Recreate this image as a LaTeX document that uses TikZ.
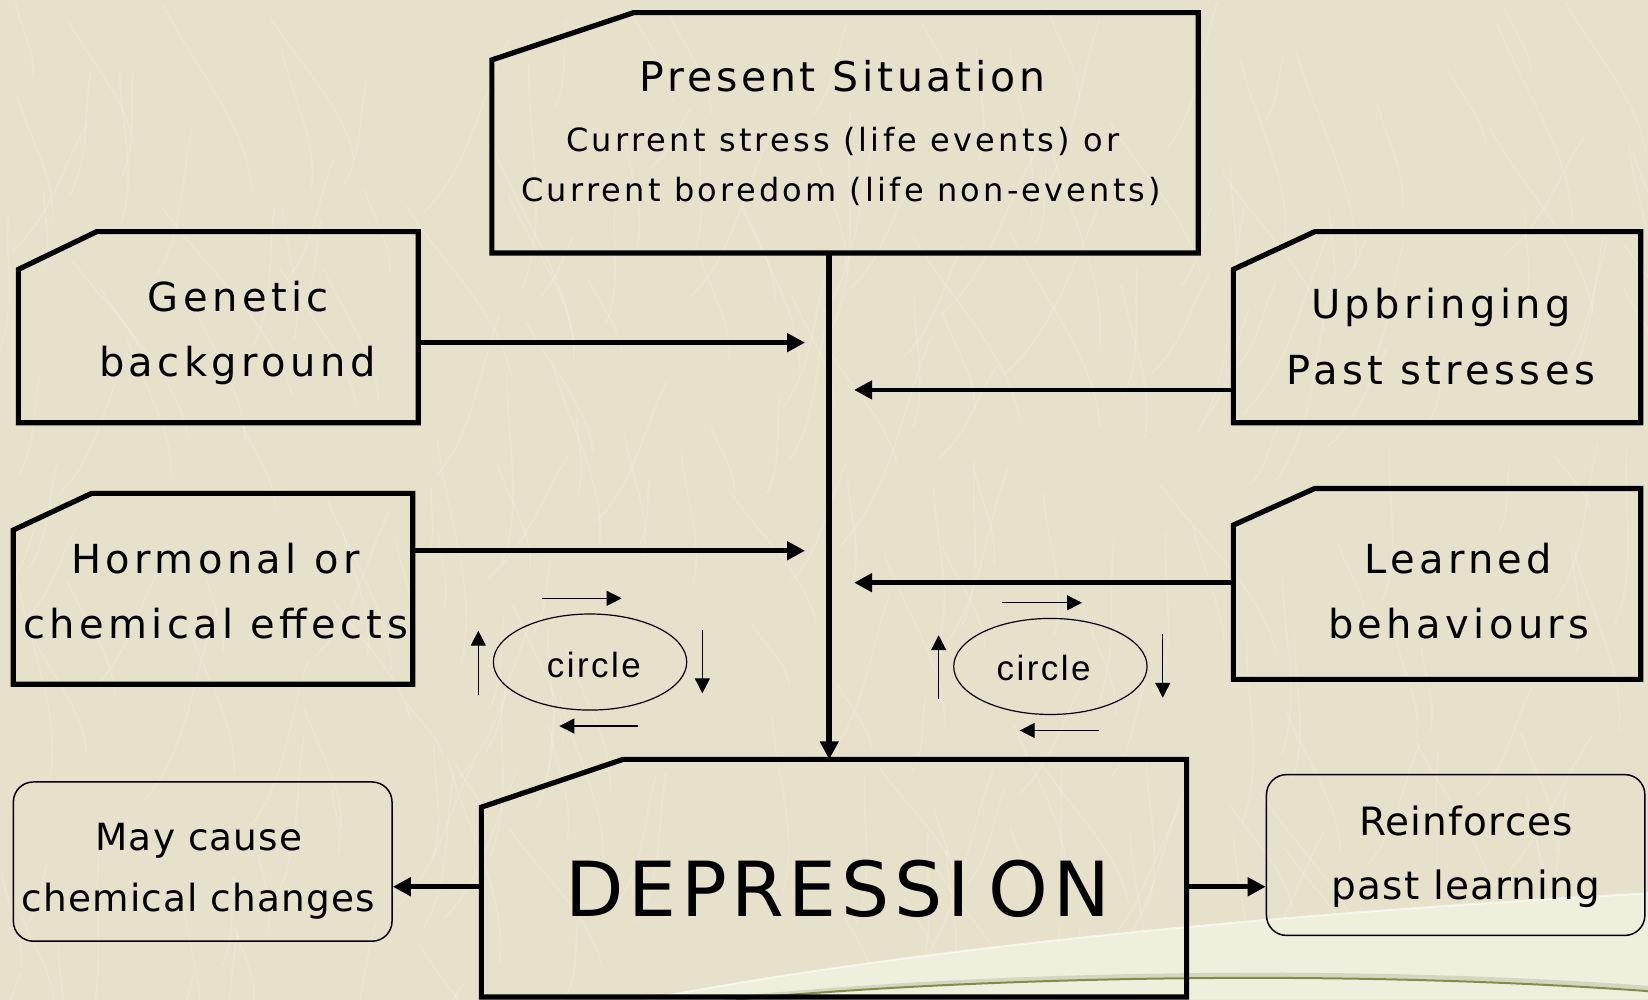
\documentclass[tikz,border=0pt]{standalone}
\usepackage{fontspec}
\setmainfont{DejaVu Sans}
\newfontfamily\boxfont[LetterSpace=11]{DejaVu Sans}
\newfontfamily\titlefont[LetterSpace=9]{DejaVu Sans}
\newfontfamily\subfont[LetterSpace=10]{DejaVu Sans}
\newfontfamily\notefont[LetterSpace=3]{DejaVu Sans}
\newfontfamily\depfont[LetterSpace=6]{DejaVu Sans}
\newfontfamily\circfont[LetterSpace=7]{Liberation Sans}
\usetikzlibrary{arrows.meta,shapes.geometric,calc}
\definecolor{bg}{HTML}{E6E1CA}
\definecolor{swoosh}{HTML}{EFEFDE}
\definecolor{olive}{HTML}{858C4A}
\def\u{0.5255pt}
% name, x1, y1, x2, y2, notch dx, notch dy
\newcommand\nbox[7]{%
  \node[boxnode, minimum width={(#4-#2)*\u}, minimum height={(#5-#3)*\u}] (#1) at ({(#2+#4)/2},{(#3+#5)/2}) {};
  \draw[boxline] ([yshift={-#7*\u}]#1.north west) -- ([xshift={#6*\u}]#1.north west) -- (#1.north east) -- (#1.south east) -- (#1.south west) -- cycle;
}
\begin{document}
\begin{tikzpicture}[x=0.5255pt, y=-0.5255pt,
  boxline/.style={line width=2.6pt, line join=miter},
  boxnode/.style={rectangle, draw=none, inner sep=0, outer sep=0},
  txt/.style={inner sep=0, outer sep=0, anchor=base},
  maintxt/.style={txt, font={\boxfont\fontsize{20pt}{24pt}\selectfont}},
  titletxt/.style={txt, font={\titlefont\fontsize{20.5pt}{24pt}\selectfont}},
  subtxt/.style={txt, font={\subfont\fontsize{16pt}{19pt}\selectfont}},
  maytxt/.style={txt, font={\notefont\fontsize{18.7pt}{22pt}\selectfont}},
  reintxt/.style={txt, font={\notefont\fontsize{19.5pt}{23pt}\selectfont}},
  deptxt/.style={txt, font={\depfont\fontsize{38pt}{42pt}\selectfont}},
  circtxt/.style={txt, font={\circfont\fontsize{17.5pt}{20pt}\selectfont}},
  conn/.style={line width=2.4pt, -{Triangle[length=9pt,width=9pt]}},
  small/.style={line width=0.6pt, -{Triangle[length=7.5pt,width=7.5pt]}},
  rbox/.style={draw, line width=0.75pt, rounded corners=10pt, inner sep=0},
  oval/.style={ellipse, draw, line width=0.6pt, inner sep=0}
]
\fill[bg] (0,0) rectangle (1568,951);
\useasboundingbox (0,0) rectangle (1568,951);
% background texture (faint light streaks)
\pgfmathsetseed{11}
\foreach \i in {1,...,260}{
  \pgfmathsetmacro\xa{rnd*1568}
  \pgfmathsetmacro\ya{rnd*951}
  \pgfmathsetmacro\an{55+rnd*70}
  \pgfmathsetmacro\ln{60+rnd*160}
  \draw[white, opacity=0.16, line width=0.7pt] (\xa,\ya) .. controls +(\an:\ln/3) and +(\an+200:\ln/3) .. ++(\an:\ln);
}
% bottom swoosh
\fill[swoosh] (615,951) .. controls (850,905) and (1200,870) .. (1568,850) -- (1568,951) -- cycle;
\draw[white, opacity=0.6, line width=1pt] (615,951) .. controls (850,905) and (1200,870) .. (1568,850);
\draw[line width=2.2pt, draw=olive!35] (690,951) .. controls (900,929) and (1250,917) .. (1568,940);
\draw[line width=1pt, draw=olive] (700,951) .. controls (900,932) and (1250,920) .. (1568,943);

% notched boxes
\nbox{pres}{468}{12}{1140}{240.7}{135}{45}
\nbox{gen}{17.5}{220.4}{398}{402.2}{74.5}{35.9}
\nbox{hor}{12.7}{469.4}{392.7}{651.1}{74.5}{34.9}
\nbox{upb}{1173.5}{220.4}{1561}{402.2}{77.5}{35.9}
\nbox{lrn}{1173.5}{464.7}{1561}{646.4}{77.5}{34.9}
\nbox{dep}{458}{722.5}{1129}{948.5}{134.8}{45.5}

% rounded boxes
\node[rbox, minimum width={(373-12.7)*\u}, minimum height={(895.5-744)*\u}] (may) at ({(12.7+373)/2},{(744+895.5)/2}) {};
\node[rbox, minimum width={(1565-1205)*\u}, minimum height={(890-737)*\u}] (rein) at ({(1205+1565)/2},{(737+890)/2}) {};

% texts
\node[titletxt] (pres1) at (801.6,87.2) {Present Situation};
\node[subtxt] (pres2) at (802,144.3) {Current stress (life events) or};
\node[subtxt] (pres3) at (800.5,191.9) {Current boredom (life non-events)};
\node[maintxt] (gen1) at (226.8,296.6) {Genetic};
\node[maintxt] (gen2) at (225.8,358.4) {background};
\node[maintxt] (hor1) at (205,545.5) {Hormonal or};
\node[maintxt] (hor2) at (205,607.4) {chemical effects};
\node[maintxt] (upb1) at (1371,303.5) {Upbringing};
\node[maintxt] (upb2) at (1371,365.4) {Past stresses};
\node[maintxt] (lrn1) at (1387.5,545.5) {Learned};
\node[maintxt] (lrn2) at (1388,607.4) {behaviours};
\node[deptxt] (dep1) at (797,872.2) {DEPRESSI\kern0.25em ON};
\node[maytxt] (may1) at (189.3,808.8) {May cause};
\node[maytxt] (may2) at (188.7,867.4) {chemical changes};
\node[reintxt] (rein1) at (1395,794.5) {Reinforces};
\node[reintxt] (rein2) at (1395,856) {past learning};

% connectors
\coordinate (tr) at (789,0);
\draw[conn, line width=2.8pt] (pres.south -| tr) -- (dep.north -| tr);
\coordinate (g1) at (766,326);
\draw[conn] (gen.east |- g1) -- (g1);
\coordinate (h1) at (766,524);
\draw[conn] (hor.east |- h1) -- (h1);
\coordinate (u1) at (812.6,371);
\draw[conn] (upb.west |- u1) -- (u1);
\coordinate (l1) at (812.6,554.4);
\draw[conn] (lrn.west |- l1) -- (l1);
\coordinate (m1) at (0,843.7);
\draw[conn] (dep.west |- m1) -- (may.east |- m1);
\draw[conn] (dep.east |- m1) -- (rein.west |- m1);

% circles
\foreach \nm/\dx/\dy/\tx/\ty in {cl/0/0/0/0, cr/438/4.2/428/3}{
  \begin{scope}[shift={(\dx,\dy)}]
    \node[oval, minimum width={184*\u}, minimum height={91.4*\u}] (\nm) at (561.4,629.9) {};
  \end{scope}
  \begin{scope}[shift={(\tx,\ty)}]
    \node[circtxt] (\nm t) at (565,644.5) {circle};
  \end{scope}
  \draw[small] ($(\nm.center)+(-46,-60.6)$) -- ++(76.1,0);
  \draw[small] ($(\nm.center)+(106.9,-30.5)$) -- ++(0,60.3);
  \draw[small] ($(\nm.center)+(46,60.9)$) -- ++(-75.2,0);
  \draw[small] ($(\nm.center)+(-106.3,31.4)$) -- ++(0,-61.2);
}
\end{tikzpicture}
\end{document}
